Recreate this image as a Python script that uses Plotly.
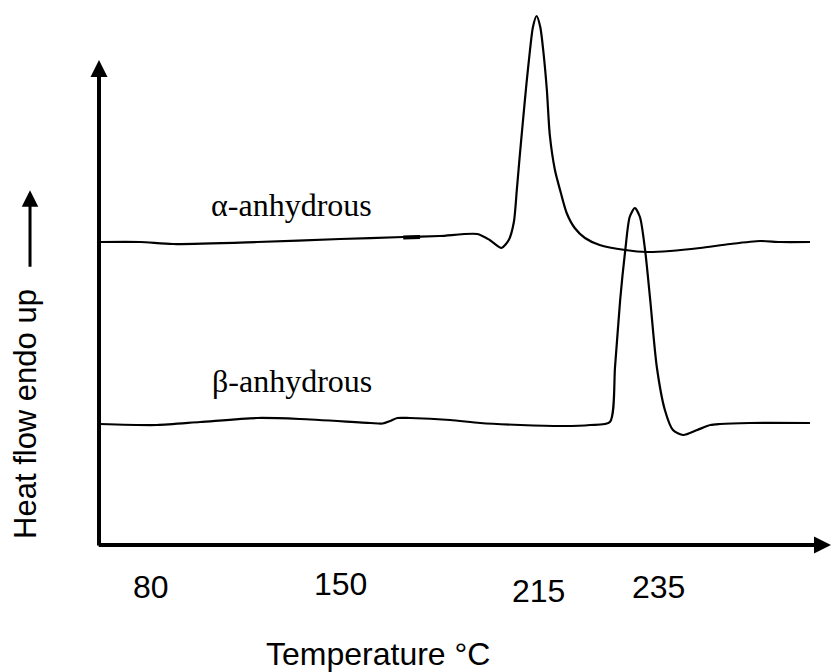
import plotly.graph_objects as go

# ---- data (abstract x position units 0..100, heat-flow units 0..54) ----
alpha_x = [0.1, 5.6, 10.1, 21.6, 32.9, 41.5, 46.5, 51.6, 53.3, 54.9, 55.9, 56.6, 57.0,
           57.4, 57.8, 58.3, 58.8, 59.2, 59.7, 60.2, 60.6, 61.1, 61.5, 62.2, 62.9,
           63.8, 64.9, 66.3, 68.3, 71.8, 74.8, 77.9, 82.0, 86.1, 90.2, 92.9, 97.0]
alpha_y = [30.3, 30.3, 30.1, 30.3, 30.6, 30.8, 30.9, 31.1, 30.5, 29.7, 30.5, 32.3, 35.5,
           38.9, 42.1, 46.0, 49.5, 51.8, 52.9, 51.8, 49.5, 45.5, 41.0, 37.5, 35.5,
           33.2, 31.7, 30.7, 30.0, 29.5, 29.3, 29.4, 29.7, 30.1, 30.4, 30.3, 30.3]

beta_x = [0.1, 7.9, 13.8, 21.6, 27.4, 37.0, 38.7, 39.7, 40.7, 42.4, 47.9, 52.0, 57.5,
          63.3, 67.0, 69.7, 70.4, 71.1, 71.8, 72.4, 73.1, 73.8, 74.5, 75.2, 76.1,
          77.2, 78.3, 79.7, 81.6, 83.4, 84.7, 88.8, 97.0]
beta_y = [12.1, 12.0, 12.3, 12.7, 12.6, 12.2, 12.15, 12.4, 12.7, 12.7, 12.5, 12.2, 12.0,
          11.9, 12.0, 12.3, 17.8, 24.5, 29.5, 32.8, 33.7, 32.8, 29.5, 24.5, 17.8,
          13.5, 11.5, 11.0, 11.5, 12.0, 12.1, 12.2, 12.2]

# small thicker segment on the alpha trace
mark_x = [41.5, 43.8]
mark_y = [30.75, 30.8]

series_labels = ["α-anhydrous", "β-anhydrous"]
tick_labels = ["80", "150", "215", "235"]
tick_pos_x = [7.1, 33.0, 59.9, 76.3]
tick_pos_y = [-4.2, -3.9, -4.6, -4.2]

X_MAX = 100.0
Y_MAX = 54.0

fig = go.Figure()
fig.add_trace(go.Scatter(x=alpha_x, y=alpha_y, mode="lines",
                         line=dict(color="black", width=2.2, shape="spline", smoothing=0.7),
                         showlegend=False, hoverinfo="skip"))
fig.add_trace(go.Scatter(x=beta_x, y=beta_y, mode="lines",
                         line=dict(color="black", width=2.2, shape="spline", smoothing=0.7),
                         showlegend=False, hoverinfo="skip"))
fig.add_trace(go.Scatter(x=mark_x, y=mark_y, mode="lines",
                         line=dict(color="black", width=4),
                         showlegend=False, hoverinfo="skip"))

serif = "Times New Roman, Liberation Serif, serif"
sans = "Arial, Liberation Sans, sans-serif"

annotations = []
# y axis arrow
annotations.append(dict(x=0, y=48.5, ax=0, ay=-0.2, xref="x", yref="y", axref="x", ayref="y",
                        showarrow=True, arrowhead=2, arrowsize=0.85, arrowwidth=4,
                        arrowcolor="black", text=""))
# x axis arrow (tip at the right edge of the page)
annotations.append(dict(x=1.003, y=0, ax=-737, ay=0, xref="paper", yref="paper",
                        axref="pixel", ayref="pixel",
                        showarrow=True, arrowhead=2, arrowsize=0.85, arrowwidth=4,
                        arrowcolor="black", text=""))
# y-axis title arrow
annotations.append(dict(x=-0.0941, y=0.657, ax=0, ay=78, xref="paper", yref="paper",
                        axref="pixel", ayref="pixel",
                        showarrow=True, arrowhead=2, arrowsize=1.1, arrowwidth=3,
                        arrowcolor="black", text=""))
# series labels
for lab, ly in zip(series_labels, [34.0, 16.4]):
    annotations.append(dict(x=26.3, y=ly, xref="x", yref="y", text=lab,
                            xanchor="center", yanchor="middle", showarrow=False,
                            font=dict(family=serif, size=32, color="black")))
# tick labels
for t, tx, ty in zip(tick_labels, tick_pos_x, tick_pos_y):
    annotations.append(dict(x=tx / X_MAX, y=ty / Y_MAX, xref="paper", yref="paper",
                            xanchor="center", yanchor="middle",
                            text=t, showarrow=False,
                            font=dict(family=sans, size=32, color="black")))
# axis titles
annotations.append(dict(x=38.0 / X_MAX, y=-10.9 / Y_MAX, xref="paper", yref="paper",
                        xanchor="center", yanchor="middle",
                        text="Temperature °C", showarrow=False,
                        font=dict(family=sans, size=32, color="black")))
annotations.append(dict(x=-10.1 / X_MAX, y=13.1 / Y_MAX, xref="paper", yref="paper",
                        xanchor="center", yanchor="middle",
                        text="Heat flow endo up", textangle=-90, showarrow=False,
                        font=dict(family=sans, size=31, color="black")))

fig.update_layout(
    width=832, height=672,
    margin=dict(l=99, r=0, t=5, b=127),
    paper_bgcolor="white", plot_bgcolor="white",
    xaxis=dict(range=[0, X_MAX], visible=False, fixedrange=True),
    yaxis=dict(range=[0, Y_MAX], visible=False, fixedrange=True),
    annotations=annotations,
    showlegend=False,
)

fig.write_html("out.html", config={"displayModeBar": False, "staticPlot": True},
               post_script="document.body.style.margin='0';document.body.style.overflow='hidden';")
